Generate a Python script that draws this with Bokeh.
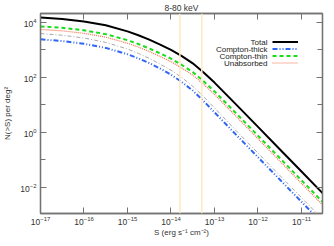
import numpy as np
from bokeh.plotting import figure
from bokeh.models import (LogAxis, FixedTicker, Span, Legend, LegendItem, Label,
                          ColumnDataSource)
from bokeh.embed import file_html
from bokeh.resources import INLINE

# ---- data (log10 units) ----
flux_log10 = [-17, -16.5, -16, -15.5, -15, -14.75, -14.5, -14.25, -14, -13.75,
              -13.5, -13.25, -13, -12.5, -12, -11.5, -11, -10.5]
total_log10 = [4.16, 4.11, 4.02, 3.88, 3.66, 3.52, 3.36, 3.18, 2.99, 2.76,
               2.50, 2.17, 1.80, 1.00, 0.19, -0.62, -1.43, -2.24]
thin_log10 = [3.84, 3.79, 3.70, 3.56, 3.34, 3.20, 3.04, 2.86, 2.67, 2.44,
              2.18, 1.85, 1.48, 0.68, -0.13, -0.94, -1.75, -2.56]
unabs_log10 = [3.73, 3.68, 3.59, 3.45, 3.23, 3.09, 2.93, 2.75, 2.56, 2.33,
               2.07, 1.74, 1.37, 0.57, -0.24, -1.05, -1.86, -2.67]
other_log10 = [3.58, 3.52, 3.42, 3.26, 3.02, 2.86, 2.68, 2.47, 2.25, 1.98,
               1.67, 1.29, 0.88, 0.05, -0.76, -1.57, -2.38, -3.19]
thick_log10 = [3.37, 3.31, 3.21, 3.06, 2.83, 2.68, 2.51, 2.31, 2.09, 1.82,
               1.51, 1.13, 0.72, -0.10, -0.91, -1.72, -2.53, -3.34]

marker_fluxes = [1.6e-14, 5.1e-14]
x_ticks = [1e-17, 1e-16, 1e-15, 1e-14, 1e-13, 1e-12, 1e-11]
y_major = [1e-2, 1e0, 1e2, 1e4]
y_minor = [1e-3, 1e-1, 1e1, 1e3]
legend_names = ["Total", "Compton-thick", "Compton-thin", "Unabsorbed"]
title_text = "8-80 keV"
x_title = "S (erg s\u207b\u00b9 cm\u207b\u00b2)"
y_title = "N(>S) per deg\u00b2"

src = ColumnDataSource(dict(
    s=10.0 ** np.array(flux_log10),
    total=10.0 ** np.array(total_log10),
    thin=10.0 ** np.array(thin_log10),
    unabs=10.0 ** np.array(unabs_log10),
    other=10.0 ** np.array(other_log10),
    thick=10.0 ** np.array(thick_log10),
))

FONT = "Liberation Sans"
AX = "#737373"
TXT = "#333333"

FW, FH = 282, 200

p = figure(frame_width=FW, frame_height=FH, x_axis_type="log", y_axis_type="log",
           x_range=(1e-17, 3.04e-11), y_range=(1.11e-3, 2.04e4),
           output_backend="svg", toolbar_location=None,
           min_border_left=0, min_border_right=4, min_border_top=0,
           min_border_bottom=0)
p.grid.visible = False
p.background_fill_color = "white"
p.border_fill_color = "white"
p.outline_line_color = AX
p.outline_line_width = 1.3

p.title.text = title_text
p.title.align = "center"
p.title.text_font = FONT
p.title.text_font_size = "8.5px"
p.title.text_font_style = "normal"
p.title.text_color = TXT
p.title.standoff = 1

def style_axis(ax, ticker, labels=True):
    ax.ticker = ticker
    ax.axis_line_color = AX
    ax.axis_line_width = 1.3
    ax.major_tick_line_color = AX
    ax.minor_tick_line_color = AX
    ax.major_tick_in = 6
    ax.major_tick_out = 0
    ax.minor_tick_in = 5
    ax.minor_tick_out = 0
    ax.major_label_text_font = FONT
    ax.major_label_text_color = TXT
    ax.axis_label_text_font = FONT
    ax.axis_label_text_font_style = "normal"
    ax.axis_label_text_color = TXT
    ax.axis_label_text_font_size = "8px"
    if labels:
        ax.major_label_text_font_size = "8.5px"
    else:
        ax.major_label_text_font_size = "1px"
        ax.major_label_text_alpha = 0
        ax.major_label_standoff = 0

xt = FixedTicker(ticks=x_ticks, minor_ticks=[])
yt = FixedTicker(ticks=y_major, minor_ticks=y_minor)

style_axis(p.xaxis[0], xt)
p.xaxis[0].axis_label = x_title
p.xaxis[0].major_label_standoff = 2
p.xaxis[0].axis_label_standoff = 0

style_axis(p.yaxis[0], yt)
p.yaxis[0].axis_label = y_title
p.yaxis[0].major_label_standoff = 4
p.yaxis[0].axis_label_standoff = 5

top = LogAxis()
style_axis(top, xt, labels=False)
p.add_layout(top, "above")
right = LogAxis()
style_axis(right, yt, labels=False)
p.add_layout(right, "right")

for f in marker_fluxes:
    p.add_layout(Span(location=f, dimension="height", line_color="#ffe9c0",
                      line_width=1.5))

r_total = p.line("s", "total", source=src, line_color="black", line_width=2)
r_thick = p.line("s", "thick", source=src, line_color="#2f66f2", line_width=2,
                 line_dash="5 2 1 2 1 2")
r_thin = p.line("s", "thin", source=src, line_color="#19dd19", line_width=2,
                line_dash="4 3")
r_unabs = p.line("s", "unabs", source=src, line_color="#f0704a", line_width=1.2,
                 line_dash="1 1")
p.line("s", "other", source=src, line_color="#a8a8a8", line_width=1,
       line_dash="4 2 1 2")

ROW = 7
LEG_TOP = 25  # distance from frame top to legend top
legend = Legend(items=[LegendItem(label="\u00a0", renderers=[r]) for r in
                       [r_total, r_thick, r_thin, r_unabs]],
                location=(232, FH - LEG_TOP - 4 * ROW), orientation="vertical",
                glyph_width=26, glyph_height=ROW, label_height=ROW, spacing=0,
                padding=0, margin=0, label_standoff=0,
                label_text_font_size="4px",
                border_line_color=None, background_fill_alpha=0)
p.add_layout(legend)

for i, name in enumerate(legend_names):
    p.add_layout(Label(x=227, y=FH - LEG_TOP - ROW / 2 - i * ROW,
                       x_units="screen", y_units="screen",
                       text=name, text_align="right", text_baseline="middle",
                       text_font=FONT, text_font_size="8px",
                       text_color="#222222"))

open("out.html", "w").write(file_html(p, INLINE))
